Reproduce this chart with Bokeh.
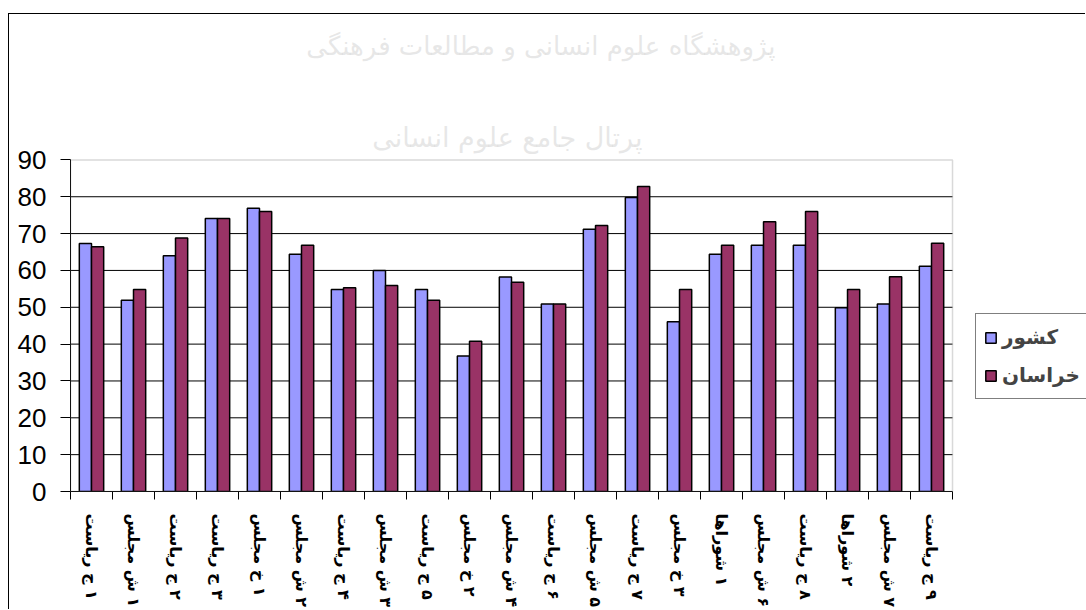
import math
from bokeh.plotting import figure
from bokeh.models import FixedTicker, Range1d, Legend, LegendItem, Label, BoxAnnotation
from bokeh.embed import file_html
from bokeh.resources import INLINE

categories = [
    "ریاست ج ۱", "مجلس ش ۱", "ریاست ج ۲", "ریاست ج ۳", "مجلس خ ۱",
    "مجلس ش ۲", "ریاست ج ۴", "مجلس ش ۳", "ریاست ج ۵", "مجلس خ ۲",
    "مجلس ش ۴", "ریاست ج ۶", "مجلس ش ۵", "ریاست ج ۷", "مجلس خ ۳",
    "شوراها ۱", "مجلس ش ۶", "ریاست ج ۸", "شوراها ۲", "مجلس ش ۷",
    "ریاست ج ۹",
]
keshvar = [67.3, 51.9, 64.0, 74.1, 76.9, 64.4, 54.8, 60.0, 54.8, 36.8, 58.2,
           50.9, 71.2, 79.8, 46.1, 64.4, 66.8, 66.8, 49.9, 50.9, 61.1]
khorasan = [66.4, 54.8, 68.8, 74.1, 76.0, 66.8, 55.3, 55.9, 51.9, 40.8, 56.8,
            50.9, 72.2, 82.8, 54.8, 66.8, 73.2, 76.0, 54.8, 58.3, 67.4]
series_names = ["كشور", "خراسان"]
y_ticks = [0, 10, 20, 30, 40, 50, 60, 70, 80, 90]
watermark = ["پژوهشگاه علوم انسانی و مطالعات فرهنگی", "پرتال جامع علوم انسانی"]

n = len(categories)
centers = list(range(1, n + 1))
bar_w = 0.29
y_max = y_ticks[-1]

# words laid out left-to-right (as in the original rotated labels)
display_labels = [c.replace(" ", "\u200e ") for c in categories]

p = figure(width=1077, height=596,
           x_range=Range1d(0.5, 24.69), y_range=Range1d(0, 129.46),
           output_backend="svg", toolbar_location=None,
           min_border_left=61, min_border_right=0, min_border_top=0, min_border_bottom=117)
p.styles = {"margin-top": "13px", "margin-left": "8px",
            "border-left": "1px solid black", "border-top": "1px solid black"}
p.background_fill_color = "white"
p.border_fill_color = "white"
p.outline_line_color = None

# faint watermark
p.add_layout(Label(x=11.7, y=121, text=watermark[0], text_align="center",
                   text_baseline="middle", text_font_size="26px", text_color="#cfcfcf",
                   text_alpha=0.5, text_font="DejaVu Sans", level="underlay"))
p.add_layout(Label(x=10.9, y=96, text=watermark[1], text_align="center",
                   text_baseline="middle", text_font_size="27px", text_color="#cfcfcf",
                   text_alpha=0.5, text_font="DejaVu Sans", level="underlay"))

# horizontal gridlines limited to the plot area
grid_vals = y_ticks[1:-1]
p.segment(x0=[0.5] * len(grid_vals), x1=[n + 0.5] * len(grid_vals),
          y0=grid_vals, y1=grid_vals, line_color="black", line_width=1)

r1 = p.vbar(x=[c - bar_w / 2 for c in centers], top=keshvar, width=bar_w,
            fill_color="#9999FF", line_color="black", line_width=1.5)
r2 = p.vbar(x=[c + bar_w / 2 for c in centers], top=khorasan, width=bar_w,
            fill_color="#993366", line_color="black", line_width=1.5)

# plot-area border (grey)
p.add_layout(BoxAnnotation(left=0.5, right=n + 0.5, bottom=0, top=y_max,
                           fill_color=None, fill_alpha=0,
                           line_color="#808080", line_width=1.5))

# y axis
p.yaxis.bounds = (0, y_max)
p.yaxis.ticker = FixedTicker(ticks=y_ticks, minor_ticks=[])
p.yaxis.major_tick_out = 10
p.yaxis.major_tick_in = 0
p.yaxis.axis_line_color = "black"
p.yaxis.major_tick_line_color = "black"
p.yaxis.major_label_text_font = "Liberation Sans"
p.yaxis.major_label_text_font_size = "26px"
p.yaxis.major_label_text_color = "black"
p.yaxis.major_label_standoff = 14
p.grid.grid_line_color = None

# x axis
p.xaxis.bounds = (0.5, n + 0.5)
p.xaxis.ticker = FixedTicker(ticks=centers, minor_ticks=[c + 0.5 for c in [0] + centers])
p.xaxis.major_label_overrides = {c: display_labels[i] for i, c in enumerate(centers)}
p.xaxis.major_tick_out = 0
p.xaxis.major_tick_in = 0
p.xaxis.minor_tick_out = 8
p.xaxis.minor_tick_in = 0
p.xaxis.minor_tick_line_color = "black"
p.xaxis.axis_line_color = "black"
p.xaxis.major_label_orientation = -math.pi / 2
p.xaxis.major_label_text_font = "DejaVu Sans"
p.xaxis.major_label_text_font_style = "bold"
p.xaxis.major_label_text_font_size = "16px"
p.xaxis.major_label_text_color = "black"
p.xaxis.major_label_standoff = 14

legend = Legend(items=[LegendItem(label=series_names[0], renderers=[r1]),
                       LegendItem(label=series_names[1], renderers=[r2])],
                location=(905, 92))
legend.label_text_font = "DejaVu Sans"
legend.label_text_font_style = "bold"
legend.label_text_font_size = "20px"
legend.label_height = 30
legend.glyph_width = 13
legend.glyph_height = 13
legend.spacing = 8
legend.padding = 8
legend.margin = 0
legend.border_line_color = "black"
legend.border_line_width = 1
legend.background_fill_alpha = 1
p.add_layout(legend)

open("out.html", "w").write(file_html(p, INLINE))
